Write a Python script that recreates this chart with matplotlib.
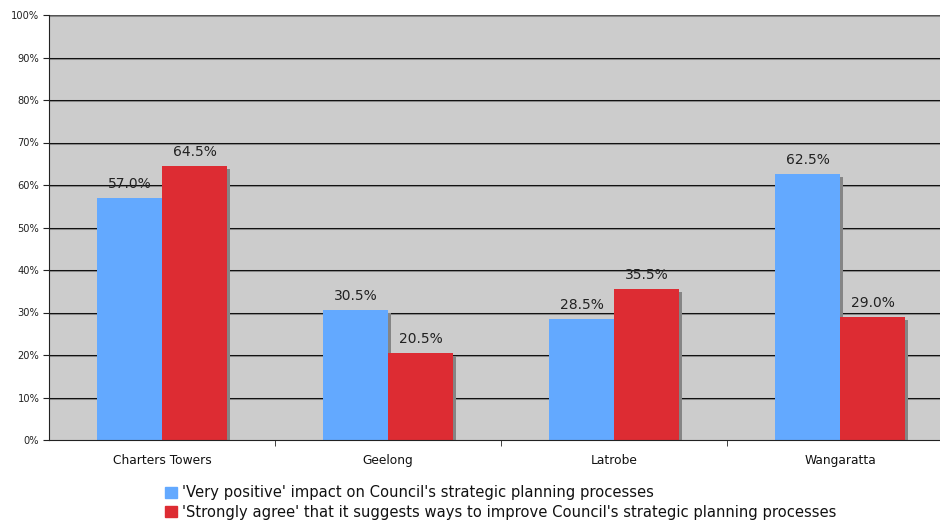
import matplotlib.pyplot as plt
from matplotlib.transforms import ScaledTranslation
import numpy as np

councils = ['Charters Towers', 'Geelong', 'Latrobe', 'Wangaratta']
very_positive = [57.0, 30.5, 28.5, 62.5]
strongly_agree = [64.5, 20.5, 35.5, 29.0]
series_names = ["'Very positive' impact on Council's strategic planning processes",
                "'Strongly agree' that it suggests ways to improve Council's strategic planning processes"]

blue = '#63a9ff'
red = '#dd2c33'
shadow = '#858585'

fig = plt.figure(figsize=(9.4, 5.22), dpi=100)
# plot area runs off the right edge of the figure
ax = fig.add_axes([49 / 940, 82 / 522, 904 / 940, 425 / 522])
ax.set_facecolor('#cccccc')

x = np.arange(len(councils))
w = 65 / 226
sx = ScaledTranslation(3 / 100, -3 / 100, fig.dpi_scale_trans)
down1 = ScaledTranslation(0, -1 / 100, fig.dpi_scale_trans)

# grid lines with a soft shadow underneath
for y in range(10, 101, 10):
    ax.plot([0, 1], [y, y], color='#8a8a8a', lw=0.75, zorder=1,
            transform=ax.get_yaxis_transform() + down1)
    ax.plot([0, 1], [y, y], color='#111111' if y < 100 else '#555555', lw=0.75, zorder=1.1,
            transform=ax.get_yaxis_transform())

for vals, off in [(very_positive, -w / 2), (strongly_agree, w / 2)]:
    ax.bar(x + off, vals, w, color=shadow, zorder=2, transform=ax.transData + sx)
for vals, off, col in [(very_positive, -w / 2, blue), (strongly_agree, w / 2, red)]:
    bars = ax.bar(x + off, vals, w, color=col, zorder=3)
    for b, v in zip(bars, vals):
        ax.annotate(f'{v:.1f}%', (b.get_x() + b.get_width() / 2, v),
                    xytext=(0, 5), textcoords='offset points',
                    ha='center', va='bottom', fontsize=10, color='#222222', zorder=4)

ax.set_xlim(-0.5, len(councils) - 0.5)
ax.set_ylim(0, 100)
ax.set_yticks(range(0, 101, 10))
ax.set_yticklabels([f'{t}%' for t in range(0, 101, 10)], fontsize=7.1, color='#222222')
ax.set_xticks(x)
ax.set_xticklabels(councils, fontsize=8.8, color='#111111')
ax.tick_params(axis='x', length=0, pad=10)
ax.set_xticks(np.arange(0.5, len(councils) - 0.5), minor=True)
ax.tick_params(axis='x', which='minor', length=4, color='#222222', direction='out')
ax.tick_params(axis='y', length=4, color='#222222', direction='out', pad=3)

for side in ['top', 'right']:
    ax.spines[side].set_visible(False)
ax.spines['left'].set_color('#222222')
ax.spines['bottom'].set_color('#222222')
ax.spines['left'].set_zorder(5)
ax.spines['bottom'].set_zorder(5)

handles = [plt.Rectangle((0, 0), 1, 1, color=blue), plt.Rectangle((0, 0), 1, 1, color=red)]
fig.legend(handles, series_names, loc='upper left', bbox_to_anchor=(152 / 940, 1 - 472 / 522),
           frameon=False, fontsize=10.6, handlelength=0.8, handleheight=0.8,
           handletextpad=0.35, labelspacing=0.3, labelcolor='#111111')

fig.savefig('out.png', dpi=100)
